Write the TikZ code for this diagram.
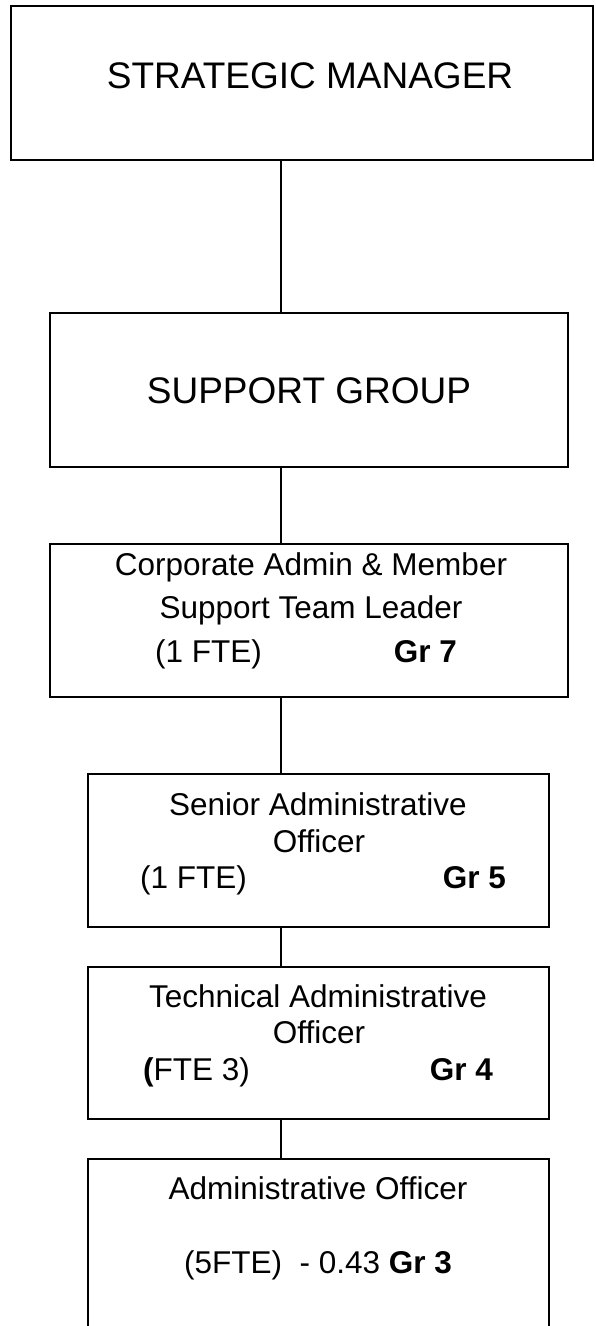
\documentclass[tikz,border=0pt]{standalone}
\usepackage{fontspec}
\setmainfont{Liberation Sans}
\begin{document}
\begin{tikzpicture}[x=1pt,y=-1pt,
  box/.style={draw=black,line width=1.4pt,inner sep=0pt,outer sep=0pt,fill=none},
  conn/.style={draw=black,line width=1.2pt},
  big/.style={inner sep=0pt,anchor=base,font=\fontsize{37}{42}\selectfont},
  txt/.style={inner sep=0pt,anchor=base,font=\fontsize{31.5}{36}\selectfont},
  txtw/.style={inner sep=0pt,anchor=base west,font=\fontsize{31.5}{36}\selectfont},
  txte/.style={inner sep=0pt,anchor=base east,font=\fontsize{31.5}{36}\selectfont}]
\clip (0,0) rectangle (595,1326);
\fill[white] (0,0) rectangle (595,1326);
\coordinate (cx) at (281,0);
% boxes
\node[box,minimum width=582pt,minimum height=154pt] (b1) at (302,83) {};
\node[box,minimum width=518pt,minimum height=154pt] (b2) at (309,390) {};
\node[box,minimum width=518pt,minimum height=153pt] (b3) at (309,620.5) {};
\node[box,minimum width=461pt,minimum height=153pt] (b4) at (318.5,850.5) {};
\node[box,minimum width=461pt,minimum height=152pt] (b5) at (318.5,1043) {};
\node[box,minimum width=461pt,minimum height=181pt] (b6) at (318.5,1249.5) {};
% connectors
\draw[conn] (b1.south -| cx) -- (b2.north -| cx);
\draw[conn] (b2.south -| cx) -- (b3.north -| cx);
\draw[conn] (b3.south -| cx) -- (b4.north -| cx);
\draw[conn] (b4.south -| cx) -- (b5.north -| cx);
\draw[conn] (b5.south -| cx) -- (b6.north -| cx);
% texts
\node[big] (t1) at (310,88) {STRATEGIC MANAGER};
\node[big] (t2) at (309,403) {SUPPORT GROUP};
\node[txt] (t3a) at (311,575) {Corporate Admin \& Member};
\node[txt] (t3b) at (311,618) {Support Team Leader};
\node[txtw] (t3c) at (155,662) {(1 FTE)};
\node[txte] (t3d) at (457,662) {\bfseries Gr 7};
\node[txt] (t4a) at (318,815) {Senior Administrative};
\node[txt] (t4b) at (319,852) {Officer};
\node[txtw] (t4c) at (140,888) {(1 FTE)};
\node[txte] (t4d) at (506,888) {\bfseries Gr 5};
\node[txt] (t5a) at (318,1007) {Technical Administrative};
\node[txt] (t5b) at (319,1043) {Officer};
\node[txtw] (t5c) at (143,1080) {\textbf{(}FTE 3)};
\node[txte] (t5d) at (493,1080) {\bfseries Gr 4};
\node[txt] (t6a) at (318,1199) {Administrative Officer};
\node[txt] (t6b) at (318,1273) {(5FTE)\ \ - 0.43 \textbf{Gr 3}};
\end{tikzpicture}
\end{document}
